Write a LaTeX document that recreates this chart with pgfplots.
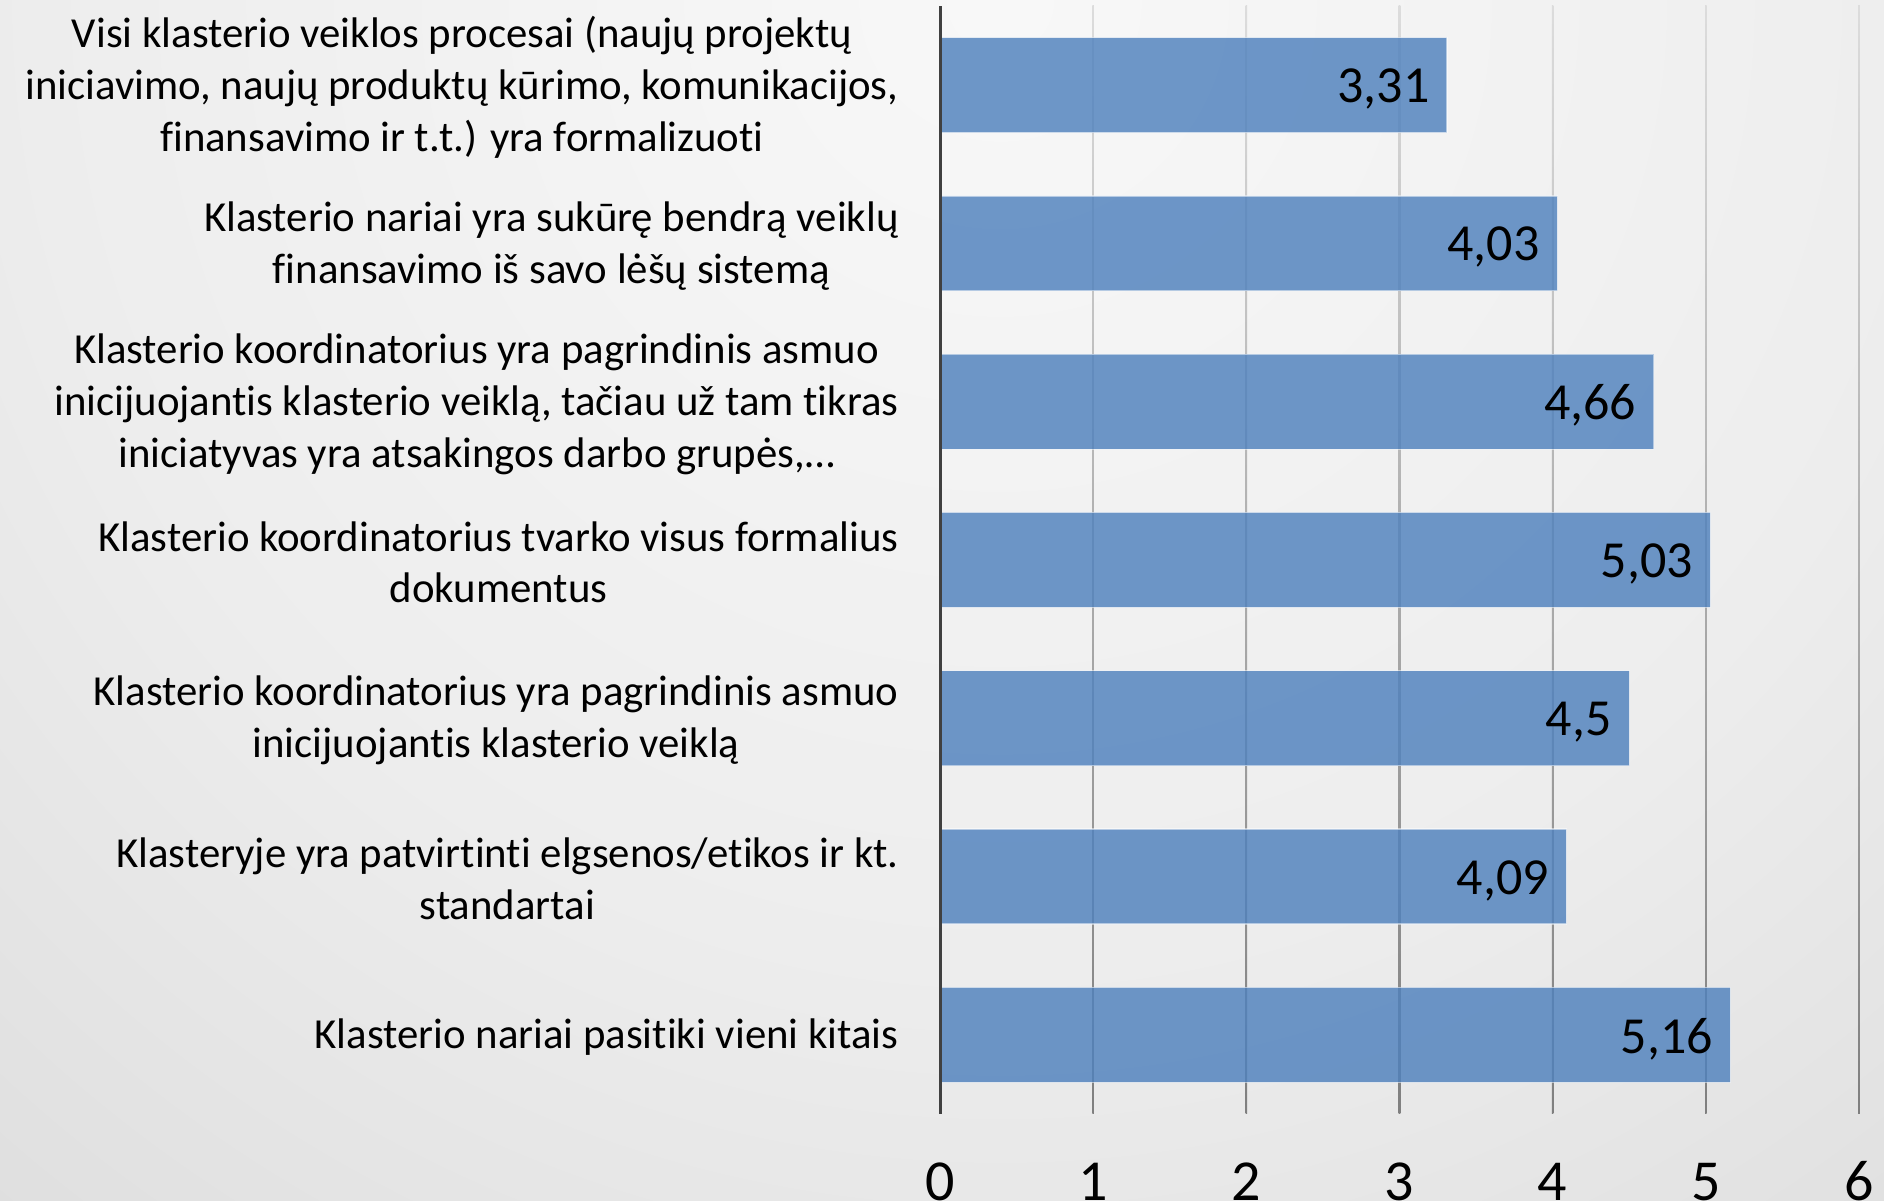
\documentclass[border=0pt]{standalone}
\usepackage{fontspec}
\setmainfont{Carlito}[Ligatures={NoCommon}]
\usepackage{pgfplots}
\pgfplotsset{compat=1.18}
\definecolor{barblue}{HTML}{4F81BD}
\definecolor{axisgray}{HTML}{404040}
\definecolor{gridtop}{HTML}{DCDCDC}
\definecolor{gridbot}{HTML}{7F7F7F}
\pgfdeclareradialshading{bgshade}{\pgfpoint{0bp}{0bp}}{rgb(0bp)=(0.973,0.973,0.973); rgb(15bp)=(0.93,0.93,0.93); rgb(28bp)=(0.855,0.855,0.855); rgb(36bp)=(0.81,0.81,0.81); rgb(50bp)=(0.75,0.75,0.75)}
\begin{document}
\begin{tikzpicture}[x=1bp,y=1bp]
\begin{scope}
\clip (0,0) rectangle (942,600.5);
\shade[shading=bgshade] (500,600.5) circle (800);
\end{scope}
\begin{axis}[
  at={(470bp,43.5bp)}, anchor=south west,
  scale only axis, width=459.5bp, height=554bp,
  xmin=0, xmax=6, ymin=-0.5, ymax=6.5,
  xbar, bar width=0.6,
  axis line style={draw=none},
  major tick length=0pt,
  xtick={0,...,6},
  ytick={0,...,6},
  yticklabels={
    {Klasterio nariai pasitiki vieni kitais},
    {Klasteryje yra patvirtinti elgsenos/etikos ir kt.\\standartai},
    {Klasterio koordinatorius yra pagrindinis asmuo\\inicijuojantis klasterio veiklą},
    {Klasterio koordinatorius tvarko visus formalius\\dokumentus},
    {Klasterio koordinatorius yra pagrindinis asmuo\\inicijuojantis klasterio veiklą, tačiau už tam tikras\\iniciatyvas yra atsakingos darbo grupės,…},
    {Klasterio nariai yra sukūrę bendrą veiklų\\finansavimo iš savo lėšų sistemą},
    {Visi klasterio veiklos procesai (naujų projektų\\iniciavimo, naujų produktų kūrimo, komunikacijos,\\finansavimo ir t.t.) yra formalizuoti}
  },
  yticklabel style={align=center, anchor=east, font=\fontsize{21.4bp}{25.9bp}\selectfont, inner sep=0pt, xshift=-20.5bp, yshift=-1.2bp},
  xticklabel style={anchor=base, font=\fontsize{29bp}{34bp}\selectfont, inner sep=0pt, yshift=-43.5bp},
  /pgf/number format/assume math mode=true,
  /pgf/number format/use comma,
  /pgf/number format/precision=2,
  point meta=x,
  nodes near coords,
  nodes near coords style={anchor=east, font=\fontsize{26bp}{30bp}\selectfont, inner sep=0pt, xshift=-8.5bp, yshift=-2bp, text=black, text opacity=1, fill=none, draw=none},
  clip=false,
]
\pgfplotsinvokeforeach{1,...,6}{
  \shade[top color=gridtop, bottom color=gridbot] ([xshift=-0.4bp]axis cs:#1,6.5) rectangle ([xshift=0.4bp]axis cs:#1,-0.5);
}
\addplot[xbar, fill=barblue, fill opacity=0.82, draw=white, draw opacity=0.5, line width=0.6bp]
  coordinates {(5.16,0) (4.09,1) (4.5,2) (5.03,3) (4.66,4) (4.03,5) (3.31,6)};
\draw[axisgray, line width=1.5bp] (axis cs:0,-0.5) -- (axis cs:0,6.5);
\end{axis}
\pgfresetboundingbox
\path[use as bounding box] (0,0) rectangle (942,600.5);
\end{tikzpicture}
\end{document}
